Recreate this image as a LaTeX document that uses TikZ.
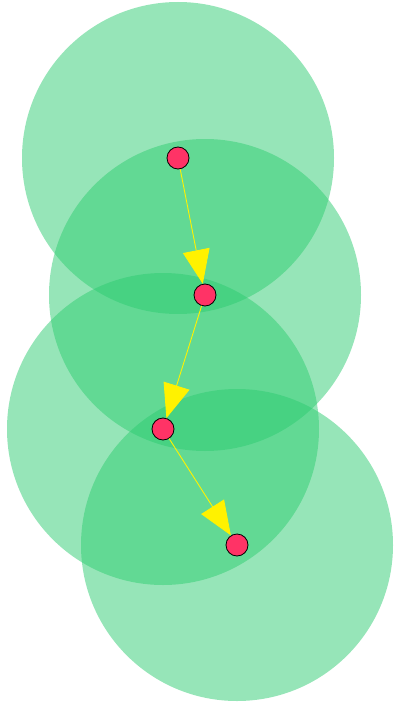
\documentclass[tikz,border=0pt]{standalone}
\usetikzlibrary{arrows.meta}
\definecolor{zone}{HTML}{2ECC71}
\definecolor{dotc}{HTML}{FF3366}
\tikzset{
  zonecircle/.style={fill=zone, fill opacity=0.5, draw=none},
  dot/.style={circle, draw=black, line width=0.8pt, fill=dotc, minimum size=22pt, inner sep=0pt},
  link/.style={draw=yellow, line width=0.9pt, -{Triangle[length=34pt, width=27pt]}}
}
\begin{document}
\begin{tikzpicture}[x=1pt, y=-1pt]
\useasboundingbox (0,0) rectangle (394,706);
\fill[zonecircle] (178,158) circle (156);
\fill[zonecircle] (205,295) circle (156);
\fill[zonecircle] (163,429) circle (156);
\fill[zonecircle] (237,545) circle (156);
\node[dot] (a) at (178,158) {};
\node[dot] (b) at (205,295) {};
\node[dot] (c) at (163,429) {};
\node[dot] (d) at (237,545) {};
\draw[link] (a) -- (b);
\draw[link] (b) -- (c);
\draw[link] (c) -- (d);
\end{tikzpicture}
\end{document}
